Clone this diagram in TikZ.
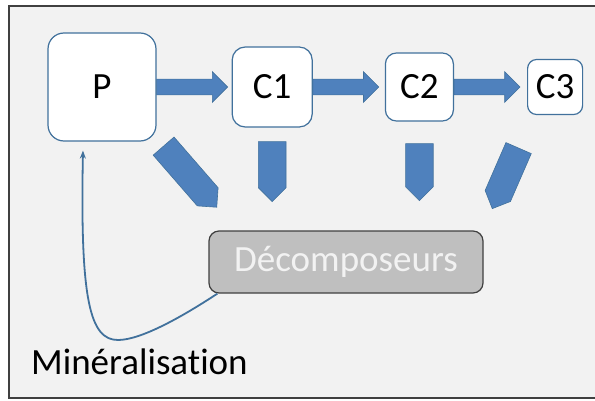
\documentclass[tikz,border=0pt]{standalone}
\usepackage{fontspec}
\setmainfont{Carlito}[Ligatures=NoCommon]
\usepackage{tikz}
\usetikzlibrary{shapes,arrows.meta,positioning,calc}
\definecolor{fond}{HTML}{F2F2F2}
\definecolor{cadre}{HTML}{404040}
\definecolor{bleu}{HTML}{4F81BD}
\definecolor{bleufonce}{HTML}{41719C}
\definecolor{gris}{HTML}{BFBFBF}

\begin{document}
\begin{tikzpicture}[x=1pt, y=1pt, node distance=73pt]
        \tikzstyle{maillon}=[rectangle, draw=bleufonce, line width=1.2pt, fill=white, inner sep=0pt, font=\fontsize{37}{40}\selectfont]
        \tikzstyle{flux}=[single arrow, fill=bleu, draw=bleufonce, line width=0.6pt, inner xsep=0pt, inner ysep=7.5pt, single arrow head extend=7.5pt, anchor=west, outer sep=0pt]
        \tikzstyle{restes}=[single arrow, fill=bleu, draw=bleufonce, line width=0.6pt, inner xsep=0pt, inner ysep=13.5pt, single arrow head extend=0pt, anchor=tail, outer sep=0pt]
        \useasboundingbox (0,0) rectangle (595,400);

        % Cadre
        \draw[cadre, fill=fond, line width=1.5pt] (9,2) rectangle (610,394);

        % Chaine trophique
        \node (p) [maillon, rounded corners=16pt, minimum size=108pt] at (102,313) {P};
        \node (c1) [maillon, rounded corners=13pt, minimum size=80pt, right = 75pt of p] {C1};
        \node (c2) [maillon, rounded corners=11pt, minimum size=68pt, right = 72pt of c1] {C2};
        \node (c3) [maillon, rounded corners=9pt, minimum size=55pt, right = of c2] {C3};

        % Fleches entre maillons
        \node (f1) [flux, minimum height=71pt] at (p.east) {};
        \node (f2) [flux, minimum height=66pt] at (c1.east) {};
        \node (f3) [flux, minimum height=66pt] at (c2.east) {};

        % Decomposeurs
        \node (dec) [rectangle, rounded corners=10pt, draw=cadre, fill=gris, line width=1.2pt, minimum width=274pt, minimum height=62pt, text=fond, font=\fontsize{37}{40}\selectfont] at (346,138) {Décomposeurs};

        % Restes vers les decomposeurs
        \node (r0) [restes, minimum height=81pt, rotate=-49] at ($(p.south east)+(7,-4.5)$) {};
        \node (r1) [restes, minimum height=60pt, rotate=-90] at ($(c1.south)+(0,-14)$) {};
        \node (r2) [restes, minimum height=57pt, rotate=-90] at ($(c2.south)+(0,-22)$) {};
        \node (r3) [restes, minimum height=66pt, rotate=-113.5] at ($(c3.south)+(-36.5,-33)$) {};

        % Mineralisation
        \node (miner) [anchor=base west, inner sep=0pt, font=\fontsize{37}{40}\selectfont] at (31,26) {Minéralisat\kern0pt ion};
        \coordinate (depart) at ($(dec.south west)+(9,0)$);
        \coordinate (creux) at (118,60);
        \coordinate (retour) at ($(p.south)+(-19,-9)$);
        \draw[bleufonce, line width=1.8pt, -{Stealth[length=8pt,width=6pt]}] (depart) .. controls +(-38,-25) and +(22,0) .. (creux) .. controls +(-28,0) and +(-3,-150) .. (retour);
    \end{tikzpicture}
\end{document}
